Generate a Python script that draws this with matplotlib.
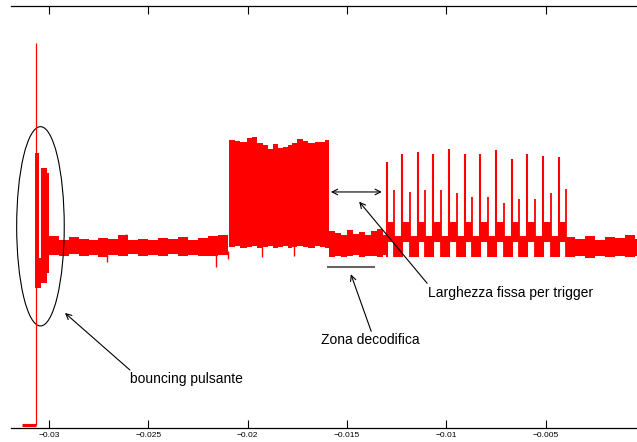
import matplotlib.pyplot as plt
from matplotlib.patches import Ellipse

plt.rcParams['font.family'] = ['Liberation Sans', 'DejaVu Sans']

# livello basso prima della pressione e primo picco
pre_t = [-0.03135, -0.03064]
pre_v = [0.03, 0.03]
spike_t = -0.03064
spike_top = 4.56

# rimbalzi del pulsante
bounce_t = [-0.03068, -0.03048, -0.03041, -0.03011, -0.02999]
bounce_lo = [1.66, 1.66, 1.72, 1.83]
bounce_hi = [3.26, 2.01, 3.08, 3.02]

# rumore di fondo dopo i rimbalzi
base_t = [-0.02999, -0.02950, -0.02900, -0.02850, -0.02800, -0.02750,
          -0.02700, -0.02650, -0.02600, -0.02550, -0.02500, -0.02450,
          -0.02400, -0.02350, -0.02300, -0.02250, -0.02200, -0.02150,
          -0.02099]
base_lo = [2.05, 2.03, 2.06, 2.04, 2.05, 2.02, 2.05, 2.04, 2.06,
           2.03, 2.05, 2.04, 2.06, 2.03, 2.05, 2.04, 2.03, 2.05]
base_hi = [2.27, 2.23, 2.26, 2.24, 2.22, 2.25, 2.24, 2.28, 2.23,
           2.24, 2.22, 2.25, 2.24, 2.26, 2.23, 2.25, 2.27, 2.29]

# blocco ad alta frequenza
block_t = [-0.020921, -0.020634, -0.020383, -0.020046, -0.019794, -0.019543,
           -0.019211, -0.018959, -0.018708, -0.018456, -0.018205, -0.017953,
           -0.017782, -0.017531, -0.017199, -0.016947, -0.016610, -0.016359,
           -0.016107, -0.015921]
block_lo = [2.14, 2.15, 2.13, 2.14, 2.16, 2.13, 2.14, 2.15, 2.13, 2.14,
            2.15, 2.13, 2.14, 2.16, 2.14, 2.13, 2.15, 2.14, 2.13]
block_hi = [3.41, 3.40, 3.39, 3.43, 3.45, 3.38, 3.35, 3.31, 3.36, 3.32,
            3.33, 3.35, 3.37, 3.42, 3.40, 3.37, 3.39, 3.39, 3.41]

# zona di decodifica
dec_t = [-0.015921, -0.01560, -0.01530, -0.01500, -0.01470, -0.01440,
         -0.01410, -0.01380, -0.01350, -0.01320, -0.013003]
dec_lo = [2.02, 2.04, 2.02, 2.03, 2.05, 2.02, 2.03, 2.04, 2.02, 2.05]
dec_hi = [2.33, 2.31, 2.29, 2.35, 2.30, 2.32, 2.28, 2.33, 2.36, 2.29]

# treno di impulsi: picco alto, plateau, picco basso, pausa
tall_t = [-0.013003, -0.012233, -0.011429, -0.010659, -0.009869, -0.009064,
          -0.008310, -0.007505, -0.006715, -0.005931, -0.005141, -0.004351]
tall_v = [3.15, 3.25, 3.27, 3.25, 3.30, 3.24, 3.25, 3.29, 3.18, 3.24, 3.22, 3.21]
short_t = [-0.012621, -0.011846, -0.011061, -0.010272, -0.009482, -0.008697,
           -0.007907, -0.007118, -0.006333, -0.005543, -0.004754, -0.003969]
short_v = [2.82, 2.80, 2.82, 2.82, 2.78, 2.74, 2.74, 2.67, 2.71, 2.71, 2.78, 2.83]
plateau_lo, plateau_hi = 2.20, 2.44
gap_lo, gap_hi = 2.02, 2.27

# rumore finale
post_t = [-0.003969, -0.00350, -0.00300, -0.00250, -0.00200, -0.00150,
          -0.00100, -0.00050, 0.0]
post_lo = [2.02, 2.04, 2.01, 2.03, 2.02, 2.04, 2.02, 2.03]
post_hi = [2.26, 2.24, 2.27, 2.23, 2.26, 2.25, 2.28, 2.24]

# disturbi isolati
glitch_t = [-0.027088, -0.021590, -0.019291, -0.017666, -0.020987, -0.026117]
glitch_lo = [1.96, 1.90, 2.02, 2.04, 2.00, 2.10]
glitch_hi = [2.10, 2.10, 2.20, 2.20, 2.10, 2.30]

xticks = [-0.03, -0.025, -0.02, -0.015, -0.01, -0.005]
xtick_labels = ['\u22120.03', '\u22120.025', '\u22120.02', '\u22120.015',
                '\u22120.01', '\u22120.005']

RED = '#ff0000'


def band(ax, t, lo, hi):
    ax.fill_between(t, lo + [lo[-1]], hi + [hi[-1]], step='post',
                    color=RED, lw=0)


fig = plt.figure(figsize=(6.37, 4.42), dpi=100)
ax = fig.add_axes([11 / 637, 14.3 / 442, 634 / 637, 421.7 / 442])

ax.plot(pre_t, pre_v, color=RED, lw=2.2, solid_capstyle='butt')
ax.vlines(spike_t, pre_v[-1], spike_top, color=RED, lw=0.9)

band(ax, bounce_t, bounce_lo, bounce_hi)
band(ax, base_t, base_lo, base_hi)
band(ax, block_t, block_lo, block_hi)
band(ax, dec_t, dec_lo, dec_hi)

# plateau e pause del treno di impulsi
for i in range(len(tall_t)):
    ax.fill_between([tall_t[i], short_t[i]], plateau_lo, plateau_hi,
                    color=RED, lw=0)
    end = tall_t[i + 1] if i + 1 < len(tall_t) else short_t[i]
    if end > short_t[i]:
        ax.fill_between([short_t[i], end], gap_lo, gap_hi, color=RED, lw=0)
ax.vlines(tall_t, gap_lo, tall_v, color=RED, lw=1.5)
ax.vlines(short_t, gap_lo, short_v, color=RED, lw=1.3)

band(ax, post_t, post_lo, post_hi)
ax.vlines(glitch_t, glitch_lo, glitch_hi, color=RED, lw=1.0)

# annotazioni
ax.add_patch(Ellipse((-0.030418, 2.388), 0.002394, 2.363, fill=False,
                     ec='black', lw=0.8))
arrow = dict(arrowstyle='->', color='black', lw=0.8, shrinkA=0, shrinkB=0)
ax.annotate('', xy=(-0.029185, 1.360), xytext=(-0.025916, 0.684),
            arrowprops=arrow)
ax.text(-0.025911, 0.577, 'bouncing pulsante', fontsize=10, va='center')

ax.annotate('', xy=(-0.015805, 2.795), xytext=(-0.013240, 2.795),
            arrowprops=dict(arrow, arrowstyle='<->'))
ax.annotate('', xy=(-0.014382, 2.680), xytext=(-0.010961, 1.712),
            arrowprops=arrow)
ax.text(-0.010911, 1.594, 'Larghezza fissa per trigger', fontsize=10,
        va='center')

ax.plot([-0.015941, -0.013657], [1.902, 1.902], color='#666666', lw=1.5)
ax.annotate('', xy=(-0.014799, 1.820), xytext=(-0.013777, 1.143),
            arrowprops=arrow)
ax.text(-0.016323, 1.036, 'Zona decodifica', fontsize=10, va='center')

ax.set_xlim(-0.0319, 0.0)
ax.set_ylim(0, 5)
ax.set_yticks([])
ax.set_xticks(xticks)
ax.set_xticklabels(xtick_labels)
ax.tick_params(axis='x', direction='in', top=True, length=6, width=0.8,
               labelsize=6, pad=3)
ax.spines['left'].set_visible(False)
ax.spines['right'].set_visible(False)
for s in ('top', 'bottom'):
    ax.spines[s].set_linewidth(0.9)

fig.savefig('out.png', dpi=100)
